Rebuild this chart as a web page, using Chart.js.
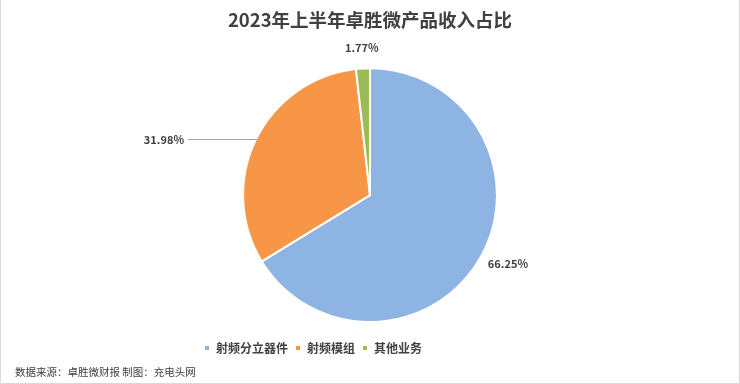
<!DOCTYPE html>
<html><head><meta charset="utf-8">
<script src="https://cdn.jsdelivr.net/npm/chart.js@4/dist/chart.umd.min.js"></script>
<style>html,body{margin:0;padding:0;background:#fff}#wrap{width:740px;height:384px;position:relative}</style>
</head><body><div id="wrap"><canvas id="c" width="740" height="384"></canvas></div>
<script>
const categories = ['射频分立器件', '射频模组', '其他业务'];
const shares = [66.25, 31.98, 1.77];
const colors = ['#8EB4E3', '#F79646', '#9BBB59'];
const titleText = '2023年上半年卓胜微产品收入占比';
const sourceText = '数据来源：卓胜微财报 制图：充电头网';
const FONT = '"Noto Sans CJK SC", "Noto Sans", sans-serif';

const labelPlugin = {
  id: 'pieLabels',
  afterDatasetsDraw(chart) {
    const ctx = chart.ctx;
    const meta = chart.getDatasetMeta(0);
    ctx.save();
    ctx.font = 'bold 11px ' + FONT;
    ctx.fillStyle = '#404040';
    ctx.textBaseline = 'middle';
    meta.data.forEach((arc, i) => {
      const a = (arc.startAngle + arc.endAngle) / 2;
      const r = arc.outerRadius;
      const cx = arc.x, cy = arc.y;
      const txt = shares[i].toFixed(2) + '%';
      if (i === 1) {
        const ex = cx + Math.cos(a) * r, ey = cy + Math.sin(a) * r;
        ctx.strokeStyle = '#a6a6a6';
        ctx.lineWidth = 1;
        ctx.beginPath();
        ctx.moveTo(ex + 2, Math.round(ey) + 0.5);
        ctx.lineTo(188, Math.round(ey) + 0.5);
        ctx.stroke();
        ctx.textAlign = 'right';
        ctx.fillText(txt, 184, ey);
      } else {
        const d = i === 0 ? 22 : 21;
        const lx = cx + Math.cos(a) * (r + d), ly = cy + Math.sin(a) * (r + d);
        ctx.textAlign = 'center';
        ctx.fillText(txt, lx + (i === 0 ? 8 : 0), ly + (i === 0 ? -4 : 0));
      }
    });
    ctx.restore();
  }
};

const legendShift = {
  id: 'legendShift',
  afterLayout(chart) {
    const lg = chart.legend;
    lg.left -= 57; lg.right -= 57;
    lg.top += 12; lg.bottom += 12;
  }
};

const framePlugin = {
  id: 'frame',
  afterDraw(chart) {
    const ctx = chart.ctx;
    ctx.save();
    ctx.strokeStyle = '#d9d9d9';
    ctx.lineWidth = 1;
    ctx.beginPath();
    ctx.moveTo(0.5, 0); ctx.lineTo(0.5, 383.5); ctx.lineTo(739.5, 383.5); ctx.lineTo(739.5, 0);
    ctx.stroke();
    ctx.font = '10.5px ' + FONT;
    ctx.fillStyle = '#404040';
    ctx.textAlign = 'left';
    ctx.textBaseline = 'middle';
    ctx.fillText(sourceText, 15, 372);
    ctx.restore();
  }
};

new Chart(document.getElementById('c'), {
  type: 'pie',
  data: {
    labels: categories,
    datasets: [{ data: shares, backgroundColor: colors, borderColor: '#ffffff', borderWidth: 2, hoverOffset: 0 }]
  },
  options: {
    responsive: false,
    animation: false,
    layout: { padding: { top: 0, bottom: 32, left: 0, right: 0 } },
    plugins: {
      title: {
        display: true, text: titleText, color: '#404040',
        font: { family: FONT, size: 18.5, weight: 'bold' },
        padding: { top: 9, bottom: 36 }
      },
      legend: {
        position: 'bottom',
        labels: {
          color: '#404040', font: { family: FONT, size: 12, weight: 'bold' },
          boxWidth: 6, boxHeight: 6, padding: 7
        }
      },
      tooltip: { enabled: false }
    }
  },
  plugins: [labelPlugin, legendShift, framePlugin]
});
</script></body></html>
